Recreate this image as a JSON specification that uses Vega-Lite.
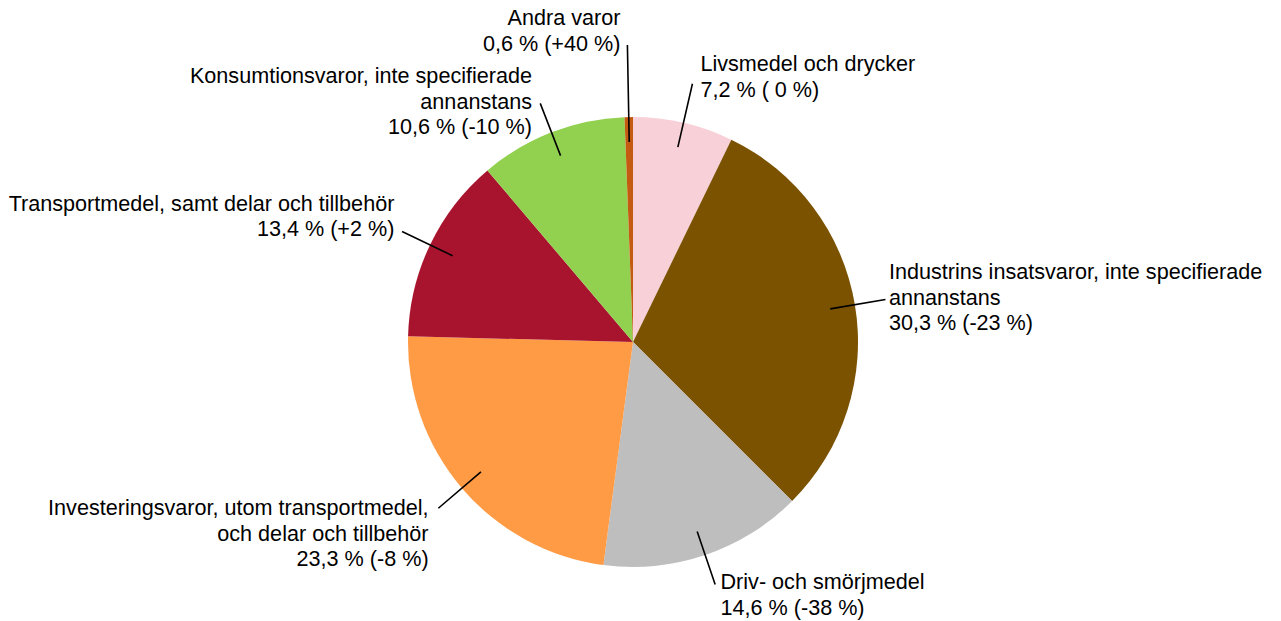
{
  "$schema": "https://vega.github.io/schema/vega-lite/v6.json",
  "width": 1266,
  "height": 558,
  "autosize": {"type": "none"},
  "padding": {"left": 0, "top": 63, "right": 15, "bottom": 0},
  "background": "white",
  "view": {"stroke": null},
  "config": {"text": {"font": "Liberation Sans", "fontSize": 21.6, "lineHeight": 25.5, "lineBreak": "\n", "color": "black", "baseline": "middle"}},
  "data": {"values": [
    {"order": 1, "cat": "Livsmedel och drycker", "share": 7.2, "label": "Livsmedel och drycker\n7,2 % ( 0 %)"},
    {"order": 2, "cat": "Industrins insatsvaror, inte specifierade annanstans", "share": 30.3, "label": "\u2005Industrins insatsvaror, inte specifierade\nannanstans\n\u200530,3 % (-23 %)"},
    {"order": 3, "cat": "Driv- och smörjmedel", "share": 14.6, "label": "Driv- och smörjmedel\n14,6 % (-38 %)"},
    {"order": 4, "cat": "Investeringsvaror, utom transportmedel, och delar och tillbehör", "share": 23.3, "label": "Investeringsvaror, utom transportmedel,\noch delar och tillbehör\n23,3 % (-8 %)"},
    {"order": 5, "cat": "Transportmedel, samt delar och tillbehör", "share": 13.4, "label": "Transportmedel, samt delar och tillbehör\n13,4 % (+2 %)"},
    {"order": 6, "cat": "Konsumtionsvaror, inte specifierade annanstans", "share": 10.6, "label": "Konsumtionsvaror, inte specifierade\nannanstans\n10,6 % (-10 %)"},
    {"order": 7, "cat": "Andra varor", "share": 0.6, "label": "Andra varor\n0,6 % (+40 %)"}
  ]},
  "transform": [
    {"stack": "share", "groupby": [], "sort": [{"field": "order", "order": "ascending"}], "as": ["s0", "s1"]},
    {"calculate": "(datum.s0 + datum.s1) / 2", "as": "mid"}
  ],
  "layer": [
    {
      "mark": {"type": "arc", "outerRadius": 225, "innerRadius": 0, "stroke": null},
      "encoding": {
        "theta": {"field": "s0", "type": "quantitative", "stack": null, "scale": {"domain": [0, 100], "range": [0, 6.283185307179586]}},
        "theta2": {"field": "s1"},
        "color": {"field": "cat", "type": "nominal", "legend": null,
          "scale": {"domain": ["Livsmedel och drycker", "Industrins insatsvaror, inte specifierade annanstans", "Driv- och smörjmedel", "Investeringsvaror, utom transportmedel, och delar och tillbehör", "Transportmedel, samt delar och tillbehör", "Konsumtionsvaror, inte specifierade annanstans", "Andra varor"],
                    "range": ["#F8D0D7", "#7A5200", "#BEBEBE", "#FF9A45", "#A8142E", "#92D050", "#C55A11"]}}
      }
    },
    {
      "transform": [{"filter": "datum.order == 2 || datum.order == 3 || datum.order == 4 || datum.order == 5 || datum.order == 6"}],
      "mark": {"type": "arc", "filled": false, "stroke": "black", "strokeWidth": 1.6},
      "encoding": {
        "theta": {"field": "mid", "type": "quantitative", "stack": null},
        "theta2": {"field": "mid"},
        "radius": {"value": 256},
        "radius2": {"value": 200}
      }
    },
    {
      "transform": [{"filter": "datum.order == 1"}],
      "mark": {"type": "arc", "filled": false, "stroke": "black", "strokeWidth": 1.6},
      "encoding": {
        "theta": {"field": "mid", "type": "quantitative", "stack": null},
        "theta2": {"field": "mid"},
        "radius": {"value": 265},
        "radius2": {"value": 200}
      }
    },
    {
      "transform": [{"filter": "datum.order == 7"}],
      "mark": {"type": "arc", "filled": false, "stroke": "black", "strokeWidth": 1.6},
      "encoding": {
        "theta": {"field": "mid", "type": "quantitative", "stack": null},
        "theta2": {"field": "mid"},
        "radius": {"value": 297},
        "radius2": {"value": 200}
      }
    },
    {
      "transform": [{"filter": "datum.order == 1"}],
      "mark": {"type": "text", "align": "left", "dx": 8, "dy": -18.75},
      "encoding": {"theta": {"field": "mid", "type": "quantitative", "stack": null}, "radius": {"value": 265}, "text": {"field": "label"}}
    },
    {
      "transform": [{"filter": "datum.order == 2"}],
      "mark": {"type": "text", "align": "left", "dx": 5.5, "dy": -26.5},
      "encoding": {"theta": {"field": "mid", "type": "quantitative", "stack": null}, "radius": {"value": 254}, "text": {"field": "label"}}
    },
    {
      "transform": [{"filter": "datum.order == 3"}],
      "mark": {"type": "text", "align": "left", "dx": 6, "dy": 0.75},
      "encoding": {"theta": {"field": "mid", "type": "quantitative", "stack": null}, "radius": {"value": 254}, "text": {"field": "label"}}
    },
    {
      "transform": [{"filter": "datum.order == 4"}],
      "mark": {"type": "text", "align": "right", "dx": -9, "dy": 0.1},
      "encoding": {"theta": {"field": "mid", "type": "quantitative", "stack": null}, "radius": {"value": 257}, "text": {"field": "label"}}
    },
    {
      "transform": [{"filter": "datum.order == 5"}],
      "mark": {"type": "text", "align": "right", "dx": -5, "dy": -25.35},
      "encoding": {"theta": {"field": "mid", "type": "quantitative", "stack": null}, "radius": {"value": 259}, "text": {"field": "label"}}
    },
    {
      "transform": [{"filter": "datum.order == 6"}],
      "mark": {"type": "text", "align": "right", "dx": -8.6, "dy": -26.9},
      "encoding": {"theta": {"field": "mid", "type": "quantitative", "stack": null}, "radius": {"value": 255}, "text": {"field": "label"}}
    },
    {
      "transform": [{"filter": "datum.order == 7"}],
      "mark": {"type": "text", "align": "right", "dx": -7, "dy": -25.75},
      "encoding": {"theta": {"field": "mid", "type": "quantitative", "stack": null}, "radius": {"value": 297}, "text": {"field": "label"}}
    }
  ]
}
